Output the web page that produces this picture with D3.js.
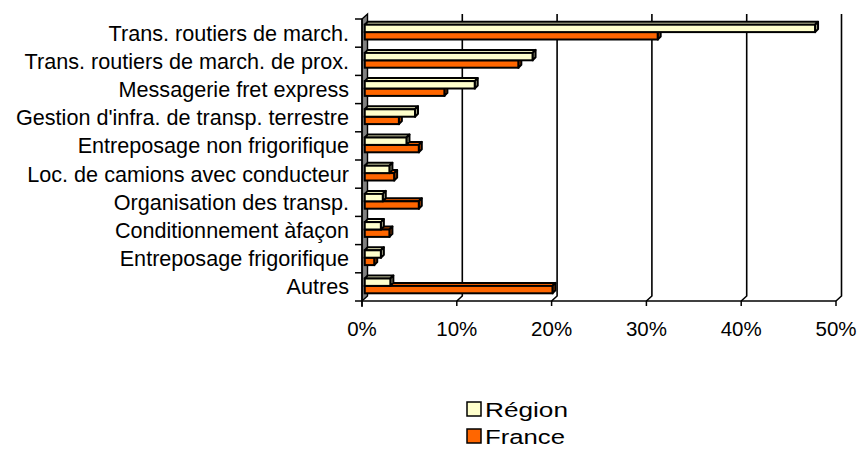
<!DOCTYPE html>
<html><head><meta charset="utf-8">
<script src="https://cdn.jsdelivr.net/npm/d3@7"></script>
<style>
html,body{margin:0;padding:0;background:#fff;}
text{font-family:"Liberation Sans",Arial,sans-serif;fill:#000;}
</style></head>
<body><svg id="c" width="860" height="454"></svg>
<script>
const categories = ["Trans. routiers de march.","Trans. routiers de march. de prox.","Messagerie fret express","Gestion d'infra. de transp. terrestre","Entreposage non frigorifique","Loc. de camions avec conducteur","Organisation des transp.","Conditionnement àfaçon","Entreposage frigorifique","Autres"];
const seriesNames = ["Région","France"];
const region = [47.5,17.7,11.6,5.3,4.4,2.6,1.9,1.7,1.7,2.7];
const france = [30.9,16.2,8.4,3.6,5.7,3.1,5.7,2.6,1.0,19.8];
const ticks = [0,10,20,30,40,50];
const tickLabels = ["0%","10%","20%","30%","40%","50%"];

const colors = {"Région":"#FFFFCC","France":"#FF6600"};
const sideColors = {"Région":"#A8A88A","France":"#A34100"};
const svg = d3.select("#c");
const DX = 5.5, DY = -5;
const x = d3.scaleLinear().domain([0,50]).range([362,836]);
const y = d3.scaleBand().domain(categories).range([19,301]);
const inner = d3.scaleBand().domain(seriesNames).range([8.2,23.0]);

// left wall
const x0 = x(0), yTop = y.range()[0], yBot = y.range()[1];
svg.append("polygon")
  .attr("points",[[x0,yTop],[x0+DX,yTop+DY],[x0+DX,yBot+DY],[x0,yBot]].join(" "))
  .attr("fill","#808080").attr("stroke","#000").attr("stroke-width",1.4);

// back gridlines + floor slants
ticks.forEach(t=>{
  if(t===0) return;
  svg.append("polyline")
    .attr("points",[[x(t)+DX,yTop+DY],[x(t)+DX,yBot+DY],[x(t),yBot]].join(" "))
    .attr("fill","none").attr("stroke","#000").attr("stroke-width",1.6);
});
// front axis
svg.append("line").attr("x1",x0).attr("x2",x(50)).attr("y1",yBot).attr("y2",yBot)
  .attr("stroke","#000").attr("stroke-width",1.5);
ticks.forEach((t,i)=>{
  svg.append("line").attr("x1",x(t)).attr("x2",x(t)).attr("y1",yBot).attr("y2",yBot+5)
    .attr("stroke","#000").attr("stroke-width",1.5);
  svg.append("text").attr("x",x(t)).attr("y",336).attr("text-anchor","middle")
    .style("font-size","20.5px").text(tickLabels[i]);
});
// left axis line + category ticks
svg.append("line").attr("x1",x0).attr("x2",x0).attr("y1",yTop).attr("y2",yBot+6)
  .attr("stroke","#000").attr("stroke-width",1.5);
categories.concat([null]).forEach((c,i)=>{
  const yy = c===null ? yBot : y(c);
  svg.append("line").attr("x1",x0-7).attr("x2",x0).attr("y1",yy).attr("y2",yy)
    .attr("stroke","#000").attr("stroke-width",1.5);
});
categories.forEach(c=>{
  svg.append("text").attr("x",349).attr("y",y(c)+y.bandwidth()/2+7.5)
    .attr("text-anchor","end").style("font-size","21.6px").text(c);
});

// bars (mid-depth plane)
const mx = DX/2, my = DY/2, d = 3;
const data = [];
categories.forEach((c,i)=>{
  data.push({c, s:"Région", v:region[i]});
  data.push({c, s:"France", v:france[i]});
});
data.slice().reverse().forEach(o=>{
  const bx0 = x(0)+mx, bx1 = x(o.v)+mx;
  const by0 = y(o.c)+my+inner(o.s), by1 = by0+inner.bandwidth();
  const g = svg.append("g");
  g.append("polygon").attr("points",[[bx0,by0],[bx0+d,by0-d],[bx1+d,by0-d],[bx1,by0]].join(" "))
    .attr("fill",colors[o.s]).attr("stroke","#000").attr("stroke-width",2).attr("stroke-linejoin","round");
  g.append("polygon").attr("points",[[bx1,by0],[bx1+d,by0-d],[bx1+d,by1-d],[bx1,by1]].join(" "))
    .attr("fill",sideColors[o.s]).attr("stroke","#000").attr("stroke-width",2).attr("stroke-linejoin","round");
  g.append("rect").attr("x",bx0).attr("y",by0).attr("width",bx1-bx0).attr("height",by1-by0)
    .attr("fill",colors[o.s]).attr("stroke","#000").attr("stroke-width",2);
});

// legend
const legY = [402,429];
seriesNames.forEach((s,i)=>{
  svg.append("rect").attr("x",467).attr("y",legY[i]).attr("width",14).attr("height",14)
    .attr("fill",colors[s]).attr("stroke","#000").attr("stroke-width",1.5);
  svg.append("text").attr("x",485).attr("y",legY[i]+14.5).style("font-size","20.5px")
    .attr("textLength", i===0?83:80).attr("lengthAdjust","spacingAndGlyphs").text(s);
});
</script></body></html>
